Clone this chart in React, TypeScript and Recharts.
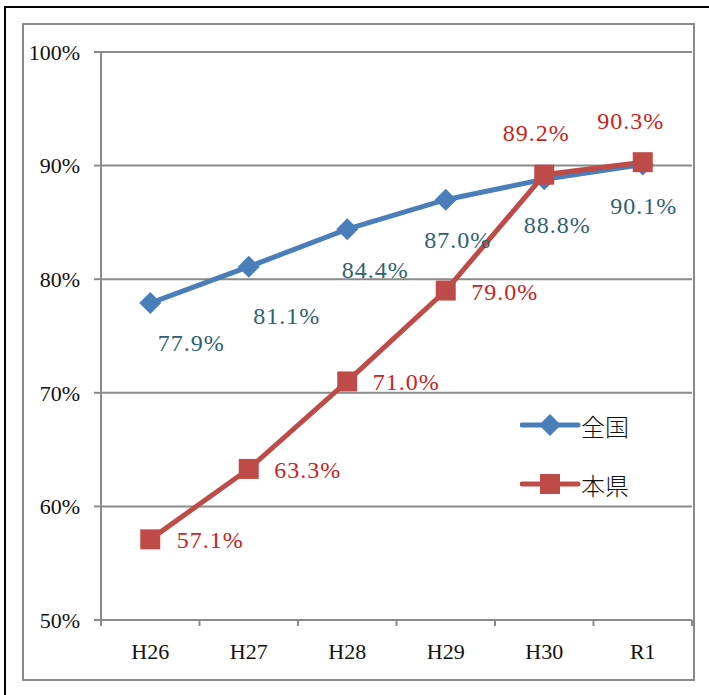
import React from 'react';
import { LineChart, Line, XAxis, YAxis, CartesianGrid, Legend, LabelList } from 'recharts';

const years = ['H26', 'H27', 'H28', 'H29', 'H30', 'R1'];
const nationalRates = [77.9, 81.1, 84.4, 87.0, 88.8, 90.1];
const prefectureRates = [57.1, 63.3, 71.0, 79.0, 89.2, 90.3];
const yTicks = [50, 60, 70, 80, 90, 100];

const data = years.map((year, i) => ({
  year,
  national: nationalRates[i],
  prefecture: prefectureRates[i],
}));

// label nudges (dx, dy) relative to each point, as placed in the source chart
const nationalLabelShift = [[41, 40], [38, 49], [28, 41], [12, 40], [13, 46], [1, 42]];
const prefectureLabelShift = [[60, 1], [59, 1], [59, 1], [59, 1], [-8, -42], [-12, -41]];

const BLUE = '#4A7EBB';
const RED = '#BE4B48';
const GRID = '#8a8a8a';
const HALF_BAND = 49.25;

const serif = '"Liberation Serif", serif';

const Diamond = (props: any) => {
  const { cx, cy } = props;
  if (cx == null || cy == null) return null;
  const r = 11;
  return <polygon points={`${cx},${cy - r} ${cx + r},${cy} ${cx},${cy + r} ${cx - r},${cy}`} fill={BLUE} />;
};

const Square = (props: any) => {
  const { cx, cy } = props;
  if (cx == null || cy == null) return null;
  return <rect x={cx - 10} y={cy - 10} width={20} height={20} fill={RED} />;
};

const makeLabel = (shifts: number[][], color: string) => (props: any) => {
  const { x, y, value, index } = props;
  const [dx, dy] = shifts[index] || [0, 0];
  return (
    <text
      x={x + dx}
      y={y + dy}
      textAnchor="middle"
      dominantBaseline="central"
      fill={color}
      fontSize={24}
      fontFamily={serif}
      letterSpacing={1}
    >
      {value.toFixed(1) + '%'}
    </text>
  );
};

const XTick = (props: any) => {
  const { x, y, payload, index, visibleTicksCount } = props;
  return (
    <g>
      <line x1={x - HALF_BAND} x2={x - HALF_BAND} y1={y} y2={y + 6} stroke={GRID} strokeWidth={2} />
      {index === visibleTicksCount - 1 && (
        <line x1={x + HALF_BAND} x2={x + HALF_BAND} y1={y} y2={y + 6} stroke={GRID} strokeWidth={2} />
      )}
      <text x={x} y={y + 31} textAnchor="middle" dominantBaseline="central" fontSize={22} fontFamily={serif} fill="#111">
        {payload.value}
      </text>
    </g>
  );
};

const LegendBox = () => (
  <svg width={160} height={110}>
    <line x1={2} x2={58} y1={25} y2={25} stroke={BLUE} strokeWidth={5} strokeLinecap="round" />
    <polygon points="30,14 41,25 30,36 19,25" fill={BLUE} />
    <text x={61} y={25} dominantBaseline="central" fontSize={24} fontFamily='"Noto Sans CJK JP", sans-serif' fontWeight={300} fill="#111">
      全国
    </text>
    <line x1={2} x2={58} y1={84} y2={84} stroke={RED} strokeWidth={5} strokeLinecap="round" />
    <rect x={20} y={74} width={20} height={20} fill={RED} />
    <text x={61} y={84} dominantBaseline="central" fontSize={24} fontFamily='"Noto Sans CJK JP", sans-serif' fontWeight={300} fill="#111">
      本県
    </text>
  </svg>
);

export default function App() {
  return (
    <div style={{ position: 'fixed', left: 0, top: 0, width: 709, height: 695, background: '#fff', overflow: 'hidden' }}>
      <div
        style={{
          position: 'absolute',
          left: 4,
          top: 6,
          width: 720,
          height: 720,
          borderTop: '2px solid #000',
          borderLeft: '2px solid #000',
        }}
      />
      <div
        style={{
          position: 'absolute',
          left: 22,
          top: 23,
          width: 669,
          height: 654,
          border: `2px solid ${GRID}`,
        }}
      />
      <LineChart
        width={709}
        height={695}
        data={data}
        margin={{ top: 52, right: 17, bottom: 35, left: 21 }}
        style={{ position: 'absolute', left: 0, top: 0 }}
      >
        <CartesianGrid vertical={false} stroke={GRID} strokeWidth={2} />
        <XAxis
          dataKey="year"
          padding={{ left: HALF_BAND, right: HALF_BAND }}
          axisLine={{ stroke: GRID, strokeWidth: 2 }}
          tickLine={false}
          tickSize={0}
          tickMargin={0}
          height={40}
          interval={0}
          tick={<XTick />}
        />
        <YAxis
          domain={[50, 100]}
          ticks={yTicks}
          width={80}
          axisLine={{ stroke: GRID, strokeWidth: 2 }}
          tickLine={{ stroke: GRID, strokeWidth: 2 }}
          tickSize={7}
          tickMargin={14}
          tickFormatter={(v: number) => `${v}%`}
          tick={{ fontSize: 22, fontFamily: serif, fill: '#111' }}
        />
        <Legend
          layout="vertical"
          align="center"
          verticalAlign="middle"
          content={<LegendBox />}
          wrapperStyle={{ left: 520, top: 400, width: 160, height: 110 }}
        />
        <Line
          dataKey="national"
          name="全国"
          stroke={BLUE}
          strokeWidth={5}
          dot={<Diamond />}
          activeDot={false}
          isAnimationActive={false}
        >
          <LabelList dataKey="national" content={makeLabel(nationalLabelShift, '#2E6273')} />
        </Line>
        <Line
          dataKey="prefecture"
          name="本県"
          stroke={RED}
          strokeWidth={5}
          dot={<Square />}
          activeDot={false}
          isAnimationActive={false}
        >
          <LabelList dataKey="prefecture" content={makeLabel(prefectureLabelShift, '#CC2222')} />
        </Line>
      </LineChart>
    </div>
  );
}
